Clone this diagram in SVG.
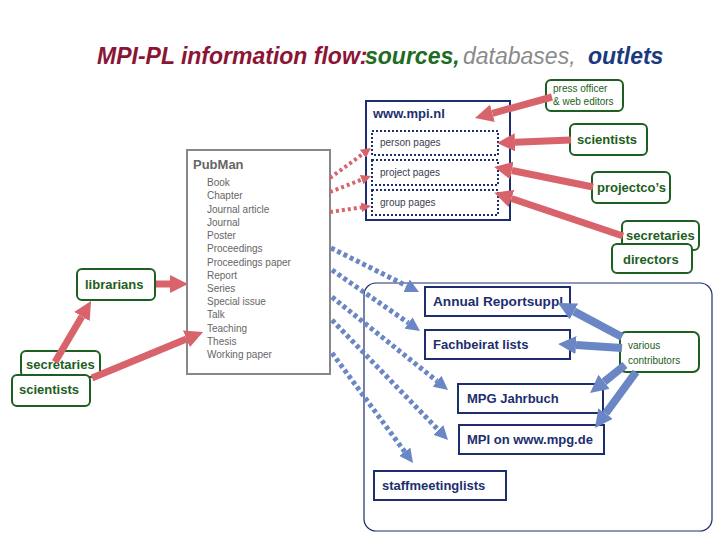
<svg xmlns="http://www.w3.org/2000/svg" width="720" height="540" viewBox="0 0 720 540">
<style>
text{font-family:"Liberation Sans",Arial,sans-serif}
.t{font-size:23px;font-style:italic;font-weight:bold}
.g{fill:#fff;stroke:#1d5e21;stroke-width:2}
.gl{fill:#1d5e21;font-size:13px;font-weight:bold}
.gs{fill:#1d5e21;font-size:10px}
.nb{fill:#fff;stroke:#1c2e6e;stroke-width:2}
.nl{fill:#1c2e6e;font-size:13px;font-weight:bold}
.dash{fill:#fff;stroke:#1c2e6e;stroke-width:2;stroke-dasharray:2 2}
.pg{fill:#3b4050;font-size:10px}
.pm{fill:#666;font-size:10px}
.rs{fill:none;stroke:#d9636b;stroke-width:7;marker-end:url(#rh)}
.rd{fill:none;stroke:#d9636b;stroke-width:4;stroke-dasharray:3 3;marker-end:url(#rhs)}
.bs{fill:none;stroke:#6b86c5;stroke-width:8;marker-end:url(#bh)}
.bd{fill:none;stroke:#6b86c5;stroke-width:5;stroke-dasharray:4 3;marker-end:url(#bhd)}
</style>
<defs>
<marker id="rh" markerUnits="userSpaceOnUse" markerWidth="18" markerHeight="18" viewBox="0 0 18 18" refX="0" refY="9" orient="auto"><path d="M0,0 L18,9 L0,18 z" fill="#d9636b"/></marker>
<marker id="rhs" markerUnits="userSpaceOnUse" markerWidth="10" markerHeight="10" viewBox="0 0 10 10" refX="0" refY="5" orient="auto"><path d="M0,0 L10,5 L0,10 z" fill="#d9636b"/></marker>
<marker id="bh" markerUnits="userSpaceOnUse" markerWidth="18" markerHeight="18" viewBox="0 0 18 18" refX="0" refY="9" orient="auto"><path d="M0,0 L18,9 L0,18 z" fill="#6b86c5"/></marker>
<marker id="bhd" markerUnits="userSpaceOnUse" markerWidth="14" markerHeight="14" viewBox="0 0 14 14" refX="0" refY="7" orient="auto"><path d="M0,0 L14,7 L0,14 z" fill="#6b86c5"/></marker>
</defs>
<rect width="720" height="540" fill="#fff"/>

<g id="title">
<text class="t" x="97" y="64" fill="#8b1535">MPI-PL information flow:</text>
<text class="t" x="365" y="64" fill="#1f6b1f">sources,</text>
<text class="t" x="463" y="64" fill="#8a8a8a" font-weight="normal" style="font-weight:normal">databases,</text>
<text class="t" x="588" y="64" fill="#1a3a80">outlets</text>
</g>

<g id="outlets-area"><rect x="364" y="283" width="348" height="248" rx="12" fill="none" stroke="#1c2e6e" stroke-width="1.2"/></g>

<g id="www-mpi-nl">
<rect class="nb" x="366" y="101" width="144" height="119"/>
<text class="nl" x="373" y="118">www.mpi.nl</text>
</g>
<g id="person-pages"><rect class="dash" x="372" y="131" width="126" height="24"/><text class="pg" x="380" y="146">person pages</text></g>
<g id="project-pages"><rect class="dash" x="372" y="160" width="126" height="25"/><text class="pg" x="380" y="176">project pages</text></g>
<g id="group-pages"><rect class="dash" x="372" y="190" width="126" height="25"/><text class="pg" x="380" y="206">group pages</text></g>

<g id="pubman">
<rect x="187" y="150" width="143" height="224" fill="#fff" stroke="#888" stroke-width="2"/>
<text x="193" y="169" fill="#666" font-size="13" font-weight="bold">PubMan</text>
<text class="pm" x="207" y="186">Book</text>
<text class="pm" x="207" y="199">Chapter</text>
<text class="pm" x="207" y="213">Journal article</text>
<text class="pm" x="207" y="226">Journal</text>
<text class="pm" x="207" y="239">Poster</text>
<text class="pm" x="207" y="252">Proceedings</text>
<text class="pm" x="207" y="266">Proceedings paper</text>
<text class="pm" x="207" y="279">Report</text>
<text class="pm" x="207" y="292">Series</text>
<text class="pm" x="207" y="305">Special issue</text>
<text class="pm" x="207" y="318">Talk</text>
<text class="pm" x="207" y="332">Teaching</text>
<text class="pm" x="207" y="345">Thesis</text>
<text class="pm" x="207" y="358">Working paper</text>
</g>

<g id="press-officer"><rect class="g" x="546" y="80" width="77" height="31" rx="5"/><text class="gs" x="553" y="92">press officer</text><text class="gs" x="553" y="105">&amp; web editors</text></g>
<g id="scientists-right"><rect class="g" x="570" y="124" width="77" height="31" rx="5"/><text class="gl" x="577" y="144">scientists</text></g>
<g id="projectcos"><rect class="g" x="592" y="172" width="78" height="31" rx="5"/><text class="gl" x="597" y="192">projectco’s</text></g>
<g id="secretaries-right"><rect class="g" x="622" y="221" width="77" height="29" rx="5"/><text class="gl" x="626" y="240">secretaries</text></g>
<g id="directors"><rect class="g" x="612" y="244" width="80" height="29" rx="5"/><text class="gl" x="623" y="264">directors</text></g>

<g id="librarians"><rect class="g" x="77" y="269" width="78" height="31" rx="5"/><text class="gl" x="85" y="289">librarians</text></g>
<g id="secretaries-left"><rect class="g" x="21" y="351" width="79" height="26" rx="5"/><text class="gl" x="26" y="369">secretaries</text></g>
<g id="scientists-left"><rect class="g" x="12" y="375" width="78" height="31" rx="5"/><text class="gl" x="19" y="394">scientists</text></g>

<g id="annual-report"><rect class="nb" x="425" y="287" width="145" height="29"/><text class="nl" x="433" y="306" textLength="130" lengthAdjust="spacingAndGlyphs">Annual Reportsuppl</text></g>
<g id="fachbeirat"><rect class="nb" x="425" y="330" width="145" height="29"/><text class="nl" x="433" y="349">Fachbeirat lists</text></g>
<g id="mpg-jahrbuch"><rect class="nb" x="458" y="384" width="145" height="29"/><text class="nl" x="467" y="403">MPG Jahrbuch</text></g>
<g id="mpi-mpg-de"><rect class="nb" x="459" y="425" width="145" height="29"/><text class="nl" x="467" y="444">MPI on www.mpg.de</text></g>
<g id="staffmeeting"><rect class="nb" x="374" y="471" width="132" height="29"/><text class="nl" x="382" y="490">staffmeetinglists</text></g>
<g id="various"><rect class="g" x="620" y="332" width="79" height="40" rx="6"/><text class="gs" x="628" y="349">various</text><text class="gs" x="628" y="364">contributors</text></g>

<g id="connectors">
<path class="rs" d="M552,97 L492.4,113.3"/>
<path class="rs" d="M571,140 L515,142.3"/>
<path class="rs" d="M593,187 L511.8,170.5"/>
<path class="rs" d="M623,236 L511.4,198.5"/>
<path class="rs" d="M156,284 L170,284"/>
<path class="rs" d="M55,362 L81.9,316.5"/>
<path class="rs" d="M92,378 L186.4,338.9"/>
<path class="rd" d="M330,178 L362.9,153.9"/>
<path class="rd" d="M330,192 L361.7,179.6"/>
<path class="rd" d="M330,212 L361.1,207.4"/>
<path class="bd" d="M331,248 L406.5,285.7"/>
<path class="bd" d="M332,270 L408.5,323"/>
<path class="bd" d="M332,297 L437.1,381.2"/>
<path class="bd" d="M332,320 L438.3,429.9"/>
<path class="bd" d="M332,353 L404.7,451.7"/>
<path class="bs" d="M622,337 L573.9,311.4"/>
<path class="bs" d="M622,348 L576,345.1"/>
<path class="bs" d="M625,365 L604.1,381.8"/>
<path class="bs" d="M636,372 L605.6,413.5"/>
</g>
</svg>
